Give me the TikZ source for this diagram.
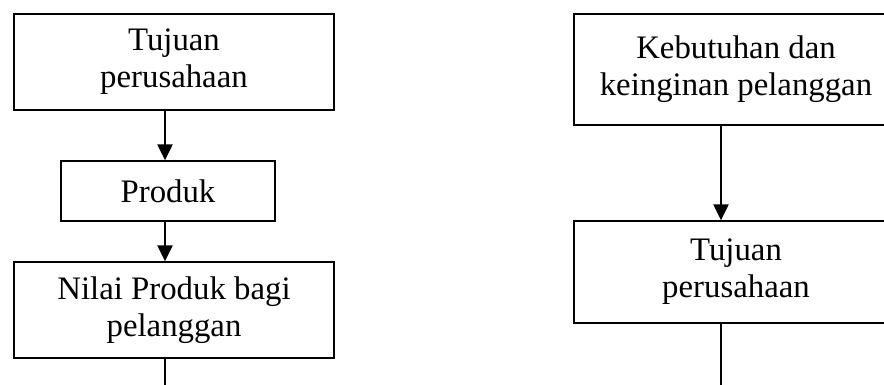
\documentclass[tikz,border=0pt]{standalone}
\usepackage{fontspec}
\setmainfont{Liberation Serif}
\usetikzlibrary{positioning,arrows.meta}
\tikzset{
  >={Triangle[length=8pt,width=7.5pt]},
  box/.style={draw, line width=0.65pt, align=center, inner sep=0pt,
              font=\fontsize{16.4}{18.6}\selectfont},
  flow/.style={->, line width=1.1pt},
  tail/.style={line width=0.55pt},
}

\begin{document}
\begin{tikzpicture}[x=0.5pt, y=-0.5pt]
    \useasboundingbox (0,0) rectangle (884,385);
    % left column
    \node[box, minimum width=160pt, minimum height=48pt] (tujuanL) at (174,62) {Tujuan\\perusahaan};
    \node[box, minimum width=107pt, minimum height=30pt] (produk) at (168,191) {Produk};
    \node[box, minimum width=160pt, minimum height=48pt] (nilai) at (174,310) {Nilai Produk bagi\\pelanggan};
    \coordinate (stemL) at (165,385);
    \draw[flow] (tujuanL.south -| stemL) -- (produk.north -| stemL);
    \draw[flow] (produk.south -| stemL) -- (nilai.north -| stemL);
    \draw[tail] (nilai.south -| stemL) -- (stemL);
    % right column
    \node[box, minimum width=162pt, minimum height=55.5pt] (kebutuhan) at (736,69.5) {Kebutuhan dan\\keinginan pelanggan};
    \node[box, minimum width=162pt, minimum height=51pt] (tujuanR) at (736,272) {Tujuan\\perusahaan};
    \coordinate (stemR) at (721,385);
    \draw[flow] (kebutuhan.south -| stemR) -- (tujuanR.north -| stemR);
    \draw[tail] (tujuanR.south -| stemR) -- (stemR);
\end{tikzpicture}
\end{document}
